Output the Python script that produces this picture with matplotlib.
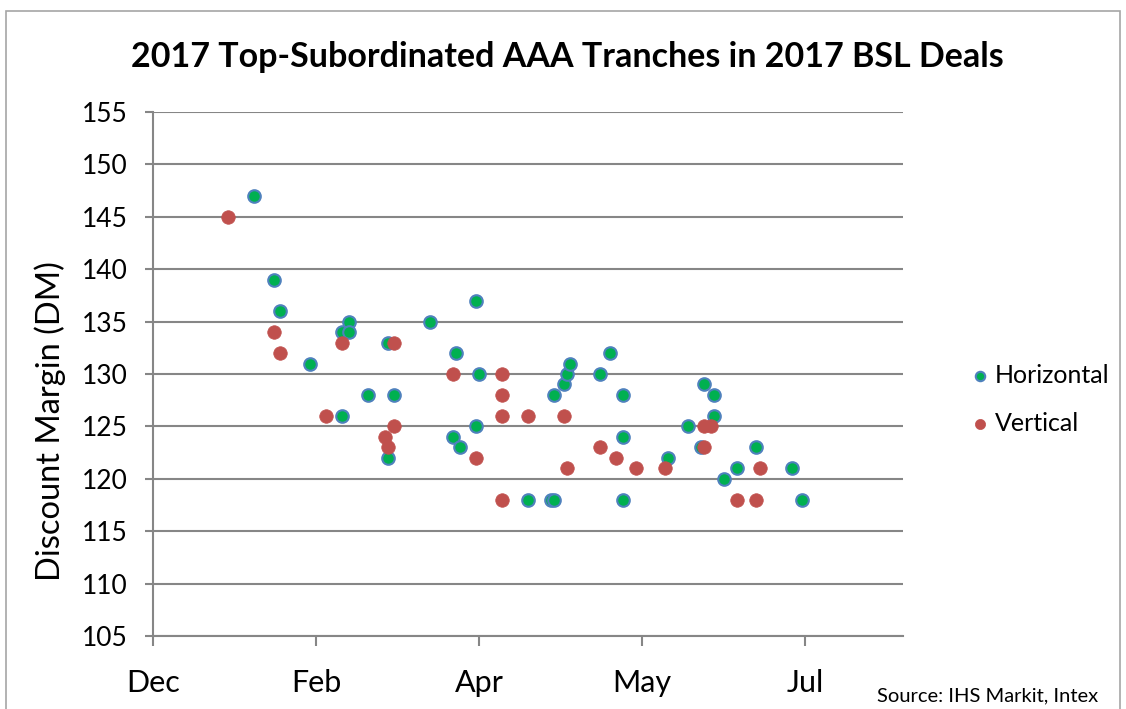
import numpy as np
import matplotlib
matplotlib.use("Agg")
import matplotlib.pyplot as plt
import matplotlib.dates as mdates
from matplotlib.patches import Rectangle

horizontal_dates = ["2017-01-26", "2017-02-01", "2017-02-03", "2017-02-12", "2017-02-22",
                    "2017-02-24", "2017-02-24", "2017-02-22", "2017-03-02", "2017-03-08",
                    "2017-03-10", "2017-03-08", "2017-03-21", "2017-03-29", "2017-03-28",
                    "2017-03-30", "2017-04-04", "2017-04-05", "2017-04-04", "2017-04-20",
                    "2017-04-27", "2017-04-28", "2017-04-28", "2017-05-01", "2017-05-02",
                    "2017-05-03", "2017-05-12", "2017-05-15", "2017-05-19", "2017-05-19",
                    "2017-05-19", "2017-06-02", "2017-06-08", "2017-06-12", "2017-06-13",
                    "2017-06-16", "2017-06-16", "2017-06-19", "2017-06-23", "2017-06-29",
                    "2017-07-10", "2017-07-13"]
horizontal_dm = [147, 139, 136, 131, 134,
                 135, 134, 126, 128, 133,
                 128, 122, 135, 132, 124,
                 123, 137, 130, 125, 118,
                 118, 118, 128, 129, 130,
                 131, 130, 132, 128, 124,
                 118, 122, 125, 123, 129,
                 128, 126, 120, 121, 123,
                 121, 118]

vertical_dates = ["2017-01-18", "2017-02-01", "2017-02-03", "2017-02-17", "2017-02-22",
                  "2017-03-10", "2017-03-07", "2017-03-08", "2017-03-10", "2017-03-28",
                  "2017-04-04", "2017-04-12", "2017-04-12", "2017-04-12", "2017-04-12",
                  "2017-04-20", "2017-05-01", "2017-05-02", "2017-05-12", "2017-05-17",
                  "2017-05-23", "2017-06-01", "2017-06-13", "2017-06-15", "2017-06-13",
                  "2017-06-23", "2017-06-29", "2017-06-30"]
vertical_dm = [145, 134, 132, 126, 133,
               133, 124, 123, 125, 130,
               122, 130, 128, 126, 118,
               126, 126, 121, 123, 122,
               121, 121, 125, 125, 123,
               118, 118, 121]

axis_start = np.datetime64("2016-12-26")
tick_days = 50

plt.rcParams['font.family'] = ['Lato', 'DejaVu Sans']

W, H = 1126, 709
fig = plt.figure(figsize=(W / 100, H / 100), dpi=100)
ax = fig.add_axes([153 / W, 1 - 636 / H, (903 - 153) / W, (636 - 112) / H])

grid_col = "#868686"

ax.scatter(np.array(horizontal_dates, dtype="datetime64[D]"), horizontal_dm,
           s=82, facecolor="#00B050", edgecolor="#4F81BD", linewidth=1.5,
           label="Horizontal", zorder=3)
ax.scatter(np.array(vertical_dates, dtype="datetime64[D]"), vertical_dm,
           s=95, facecolor="#C0504D", edgecolor="#C0504D", linewidth=0.5,
           label="Vertical", zorder=4)

ax.set_ylim(105, 155)
ax.set_yticks(np.arange(105, 156, 5))
ax.set_xlim(axis_start, axis_start + np.timedelta64(230, "D"))
ax.set_xticks([axis_start + np.timedelta64(tick_days * i, "D") for i in range(5)])
ax.xaxis.set_major_formatter(mdates.DateFormatter("%b"))

ax.grid(axis="y", color=grid_col, linewidth=1.5)
ax.set_axisbelow(True)
for side in ["top", "right"]:
    ax.spines[side].set_visible(False)
for side in ["left", "bottom"]:
    ax.spines[side].set_color(grid_col)
    ax.spines[side].set_linewidth(1.5)

ax.tick_params(axis="y", length=6, width=1.5, color=grid_col, labelsize=19, pad=12)
ax.tick_params(axis="x", length=7, width=1.5, color=grid_col, labelsize=22, pad=17)

fig.text(50 / W, 1 - 421 / H, "Discount Margin (DM)", rotation=90,
         ha="center", va="center", fontsize=23.5)
fig.text(567 / W, 1 - 57 / H, "2017 Top-Subordinated AAA Tranches in 2017 BSL Deals",
         ha="center", va="center", fontsize=24.5, fontweight="bold")
fig.text(1098 / W, 1 - 696 / H, "Source: IHS Markit, Intex",
         ha="right", va="center", fontsize=14.5)

leg = fig.legend(loc="upper left", bbox_to_anchor=(972 / W, 1 - 364 / H),
                 frameon=False, fontsize=18, handletextpad=0.3, handlelength=0.6,
                 borderpad=0, borderaxespad=0, labelspacing=1.0, markerscale=0.75)

fig.patches.append(Rectangle((6 / W, -0.05), (1120 - 6) / W, 1.05 - 11 / H,
                             transform=fig.transFigure, fill=False,
                             edgecolor="#A6A6A6", linewidth=1.2))

fig.savefig("out.png", dpi=100)
